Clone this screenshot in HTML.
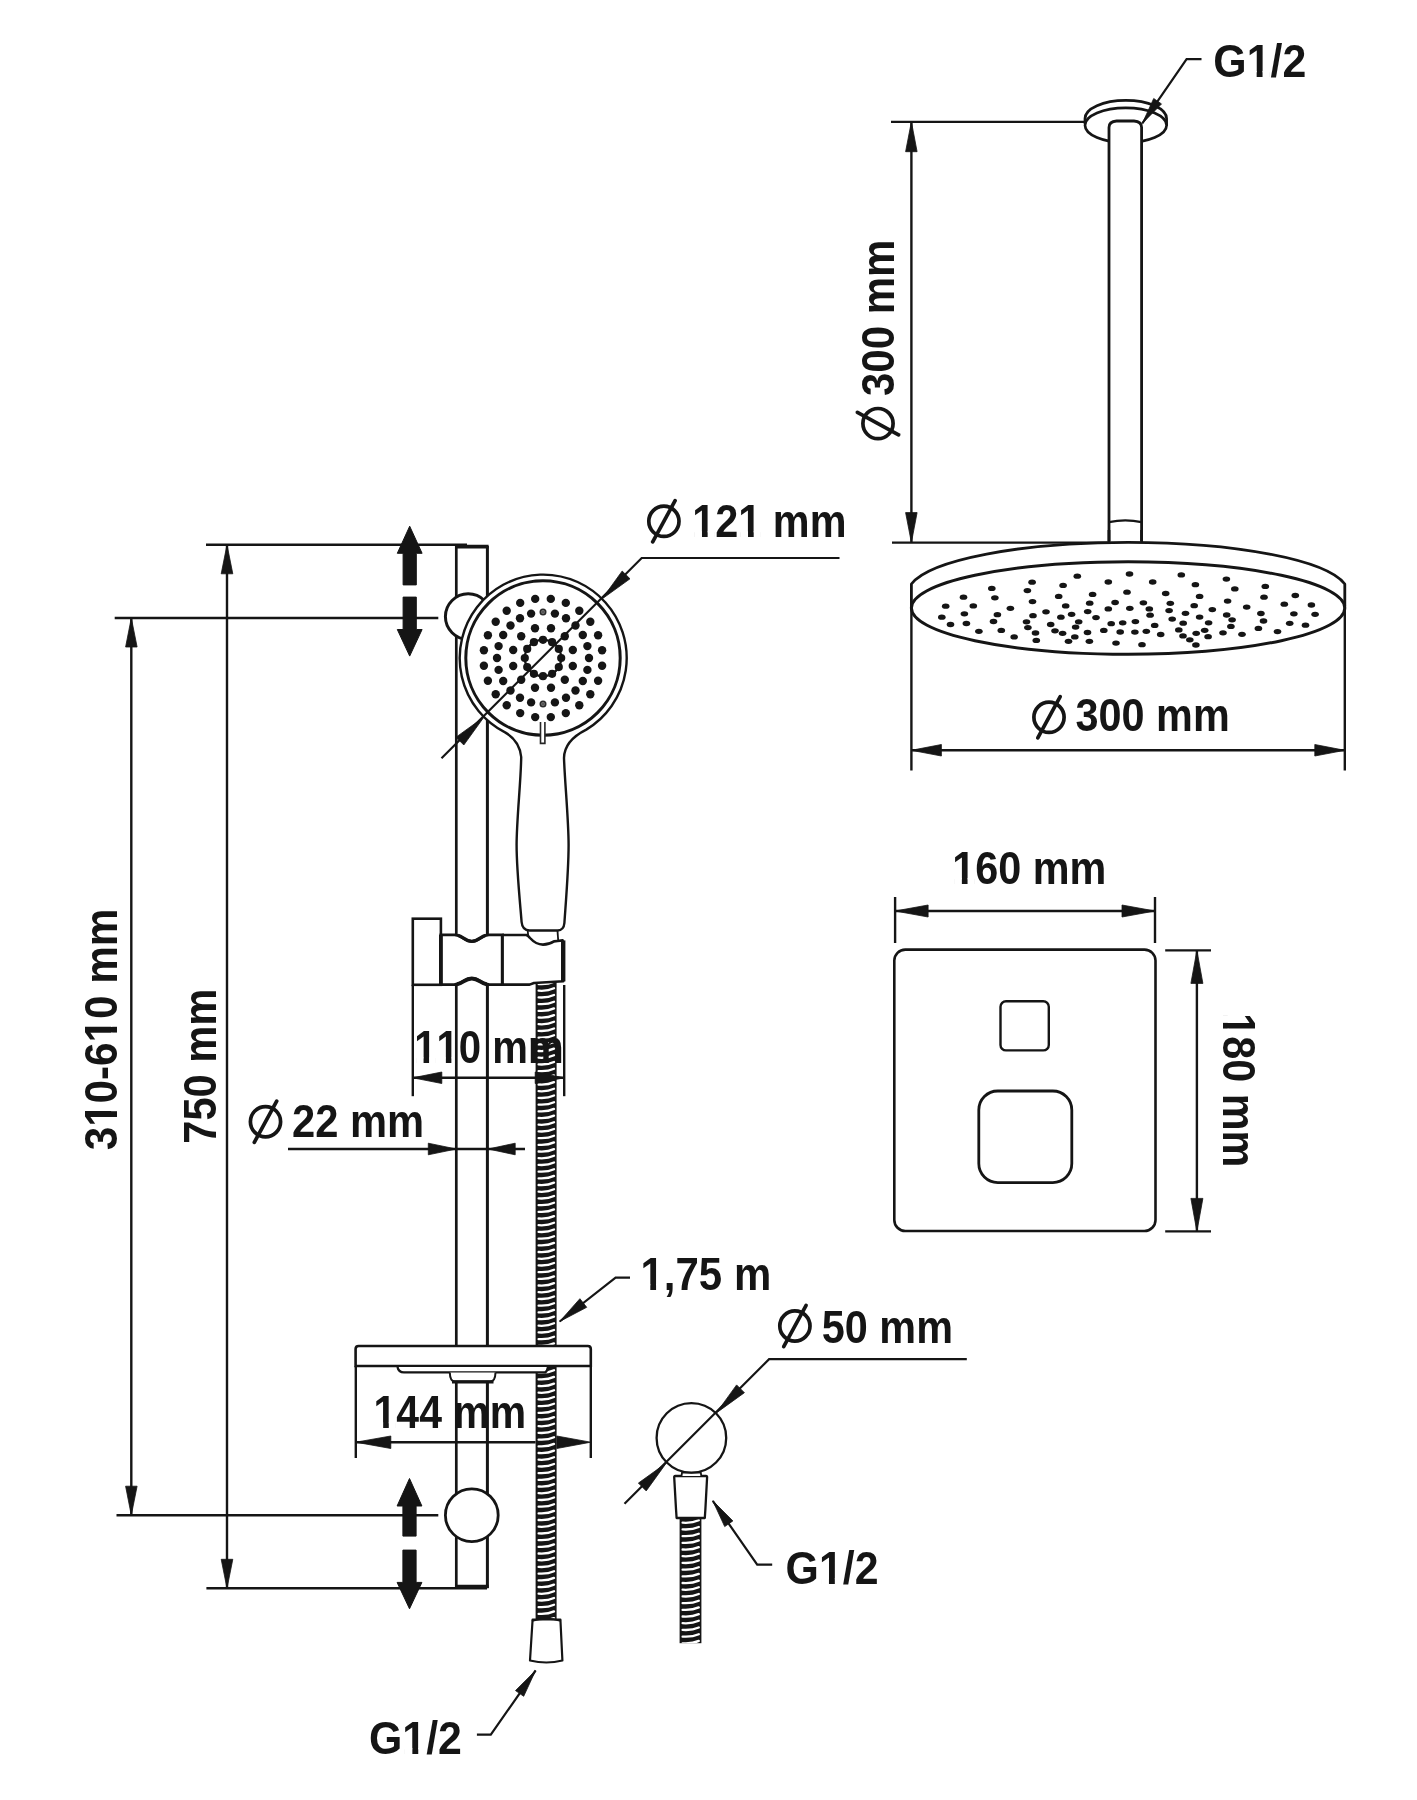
<!DOCTYPE html>
<html><head><meta charset="utf-8"><title>Shower set dimensions</title>
<style>
html,body{margin:0;padding:0;background:#fff;}
svg{display:block;}
text{font-family:"Liberation Sans",sans-serif;font-weight:bold;fill:#151515;}
</style></head>
<body>
<svg width="1417" height="1800" viewBox="0 0 1417 1800">
<rect width="1417" height="1800" fill="#fff"/>
<path d="M1085,124 L1085,118.6 A40.8,18.2 0 0 1 1166.6,118.6 L1166.6,125.7" fill="#fff" stroke="#151515" stroke-width="2.7" />
<ellipse cx="1125.8" cy="125.2" rx="40.8" ry="17.4" fill="#fff" stroke="#151515" stroke-width="2.7"/>
<path d="M1109,541 L1109,127.5 Q1109,121.4 1116.6,121 L1134,121 Q1141.6,121.4 1141.6,127.5 L1141.6,541" fill="#fff" stroke="#151515" stroke-width="2.8" />
<path d="M1109,522.2 Q1125.3,518.6 1141.6,522.2" fill="none" stroke="#151515" stroke-width="2.4" />
<polyline points="1201.5,59.2 1186.6,59.2 1142.3,123.4" fill="none" stroke="#151515" stroke-width="2.2" />
<polygon points="1142.3,123.4 1153.7,98.5 1161.5,103.9" fill="#151515" stroke="#151515" stroke-width="0.8" stroke-linejoin="round"/>
<mask id="m1" maskUnits="userSpaceOnUse" x="-10" y="-50.6" width="119.7" height="69.0"><rect x="-10" y="-50.6" width="119.7" height="69.0" fill="#fff"/><rect x="38.03" y="-5.88" width="8.49" height="6.51" fill="#000"/><rect x="52.83" y="-5.88" width="7.88" height="6.51" fill="#000"/></mask>
<text transform="translate(1213.3 76.8) scale(0.932 1)" font-size="46.0" x="0.00 35.78 61.36 74.14" y="0" mask="url(#m1)" >G1/2</text>
<line x1="891.0" y1="121.9" x2="1085.0" y2="121.9" stroke="#151515" stroke-width="2.4" />
<line x1="892.0" y1="542.6" x2="1109.0" y2="542.6" stroke="#151515" stroke-width="2.4" />
<line x1="911.4" y1="121.9" x2="911.4" y2="542.6" stroke="#151515" stroke-width="2.4" />
<polygon points="911.4,121.7 917.1,151.7 905.6,151.7" fill="#151515" stroke="#151515" stroke-width="0.8" stroke-linejoin="round"/>
<polygon points="911.4,542.6 905.6,512.6 917.1,512.6" fill="#151515" stroke="#151515" stroke-width="0.8" stroke-linejoin="round"/>
<mask id="m2" maskUnits="userSpaceOnUse" x="-10" y="-50.6" width="191.3" height="69.0"><rect x="-10" y="-50.6" width="191.3" height="69.0" fill="#fff"/></mask>
<text transform="translate(894.3 396.0) rotate(-90) scale(0.913 1)" font-size="46.0" x="0.00 25.58 51.17 76.75 89.53 130.43" y="0" mask="url(#m2)" >300 mm</text>
<g transform="translate(878.0 423.6) rotate(-90)" fill="none" stroke="#151515" stroke-width="3.7" stroke-linecap="round"><circle r="15.1"/><line x1="-11.2" y1="20.6" x2="11.2" y2="-20.6"/></g>
<path d="M911.4,606 L911.4,584 A220,50.4 0 0 1 1344.8,584 L1344.8,606" fill="#fff" stroke="#151515" stroke-width="2.8" stroke-linejoin="round"/>
<ellipse cx="1128.1" cy="608" rx="216.7" ry="46.2" fill="#fff" stroke="#151515" stroke-width="3.0"/>
<line x1="1109.0" y1="530.0" x2="1109.0" y2="542.0" stroke="#151515" stroke-width="2.8" />
<line x1="1141.6" y1="530.0" x2="1141.6" y2="542.0" stroke="#151515" stroke-width="2.8" />
<g fill="#151515">
<ellipse cx="945.7" cy="606.2" rx="3.8" ry="2.65"/>
<ellipse cx="941.8" cy="617.2" rx="3.8" ry="2.65"/>
<ellipse cx="950.5" cy="624.5" rx="3.8" ry="2.65"/>
<ellipse cx="963.5" cy="597.2" rx="3.8" ry="2.65"/>
<ellipse cx="964.4" cy="613.8" rx="3.8" ry="2.65"/>
<ellipse cx="966.4" cy="623.5" rx="3.8" ry="2.65"/>
<ellipse cx="973.3" cy="605.9" rx="3.8" ry="2.65"/>
<ellipse cx="978.9" cy="631.3" rx="3.8" ry="2.65"/>
<ellipse cx="991.8" cy="588.4" rx="3.8" ry="2.65"/>
<ellipse cx="994.9" cy="597.8" rx="3.8" ry="2.65"/>
<ellipse cx="997.4" cy="614.7" rx="3.8" ry="2.65"/>
<ellipse cx="993.5" cy="621.5" rx="3.8" ry="2.65"/>
<ellipse cx="1001.3" cy="630.4" rx="3.8" ry="2.65"/>
<ellipse cx="1010.4" cy="608.3" rx="3.8" ry="2.65"/>
<ellipse cx="1014.2" cy="636.9" rx="3.8" ry="2.65"/>
<ellipse cx="1032.1" cy="582.2" rx="3.8" ry="2.65"/>
<ellipse cx="1027.4" cy="590.6" rx="3.8" ry="2.65"/>
<ellipse cx="1032.5" cy="601.6" rx="3.8" ry="2.65"/>
<ellipse cx="1033.0" cy="615.7" rx="3.8" ry="2.65"/>
<ellipse cx="1026.5" cy="621.8" rx="3.8" ry="2.65"/>
<ellipse cx="1027.9" cy="627.6" rx="3.8" ry="2.65"/>
<ellipse cx="1035.5" cy="633.0" rx="3.8" ry="2.65"/>
<ellipse cx="1036.3" cy="640.4" rx="3.8" ry="2.65"/>
<ellipse cx="1046.0" cy="611.8" rx="3.8" ry="2.65"/>
<ellipse cx="1050.7" cy="624.5" rx="3.8" ry="2.65"/>
<ellipse cx="1055.0" cy="630.8" rx="3.8" ry="2.65"/>
<ellipse cx="1062.6" cy="633.3" rx="3.8" ry="2.65"/>
<ellipse cx="1068.5" cy="641.3" rx="3.8" ry="2.65"/>
<ellipse cx="1063.1" cy="585.4" rx="3.8" ry="2.65"/>
<ellipse cx="1058.7" cy="596.4" rx="3.8" ry="2.65"/>
<ellipse cx="1065.7" cy="605.9" rx="3.8" ry="2.65"/>
<ellipse cx="1060.9" cy="617.2" rx="3.8" ry="2.65"/>
<ellipse cx="1071.6" cy="614.3" rx="3.8" ry="2.65"/>
<ellipse cx="1078.7" cy="621.8" rx="3.8" ry="2.65"/>
<ellipse cx="1075.6" cy="627.1" rx="3.8" ry="2.65"/>
<ellipse cx="1074.8" cy="636.9" rx="3.8" ry="2.65"/>
<ellipse cx="1077.3" cy="576.2" rx="3.8" ry="2.65"/>
<ellipse cx="1092.6" cy="594.4" rx="3.8" ry="2.65"/>
<ellipse cx="1089.7" cy="603.2" rx="3.8" ry="2.65"/>
<ellipse cx="1087.7" cy="611.6" rx="3.8" ry="2.65"/>
<ellipse cx="1096.0" cy="617.6" rx="3.8" ry="2.65"/>
<ellipse cx="1087.5" cy="632.5" rx="3.8" ry="2.65"/>
<ellipse cx="1089.4" cy="641.3" rx="3.8" ry="2.65"/>
<ellipse cx="1108.3" cy="582.0" rx="3.8" ry="2.65"/>
<ellipse cx="1115.1" cy="602.5" rx="3.8" ry="2.65"/>
<ellipse cx="1108.3" cy="608.9" rx="3.8" ry="2.65"/>
<ellipse cx="1111.2" cy="623.7" rx="3.8" ry="2.65"/>
<ellipse cx="1103.8" cy="630.4" rx="3.8" ry="2.65"/>
<ellipse cx="1116.0" cy="643.1" rx="3.8" ry="2.65"/>
<ellipse cx="1129.5" cy="574.0" rx="3.8" ry="2.65"/>
<ellipse cx="1127.0" cy="592.2" rx="3.8" ry="2.65"/>
<ellipse cx="1129.8" cy="608.3" rx="3.8" ry="2.65"/>
<ellipse cx="1122.7" cy="622.8" rx="3.8" ry="2.65"/>
<ellipse cx="1120.2" cy="632.0" rx="3.8" ry="2.65"/>
<ellipse cx="1135.4" cy="621.6" rx="3.8" ry="2.65"/>
<ellipse cx="1134.9" cy="632.1" rx="3.8" ry="2.65"/>
<ellipse cx="1142.0" cy="644.7" rx="3.8" ry="2.65"/>
<ellipse cx="1152.7" cy="582.0" rx="3.8" ry="2.65"/>
<ellipse cx="1143.4" cy="602.8" rx="3.8" ry="2.65"/>
<ellipse cx="1149.3" cy="608.9" rx="3.8" ry="2.65"/>
<ellipse cx="1150.1" cy="615.2" rx="3.8" ry="2.65"/>
<ellipse cx="1154.7" cy="625.4" rx="3.8" ry="2.65"/>
<ellipse cx="1146.3" cy="631.3" rx="3.8" ry="2.65"/>
<ellipse cx="1160.7" cy="634.5" rx="3.8" ry="2.65"/>
<ellipse cx="1165.7" cy="593.5" rx="3.8" ry="2.65"/>
<ellipse cx="1170.3" cy="603.3" rx="3.8" ry="2.65"/>
<ellipse cx="1169.1" cy="610.6" rx="3.8" ry="2.65"/>
<ellipse cx="1172.2" cy="619.1" rx="3.8" ry="2.65"/>
<ellipse cx="1181.3" cy="574.9" rx="3.8" ry="2.65"/>
<ellipse cx="1185.5" cy="613.3" rx="3.8" ry="2.65"/>
<ellipse cx="1183.2" cy="623.2" rx="3.8" ry="2.65"/>
<ellipse cx="1178.8" cy="629.9" rx="3.8" ry="2.65"/>
<ellipse cx="1183.0" cy="635.9" rx="3.8" ry="2.65"/>
<ellipse cx="1189.8" cy="639.8" rx="3.8" ry="2.65"/>
<ellipse cx="1195.9" cy="645.0" rx="3.8" ry="2.65"/>
<ellipse cx="1195.4" cy="584.7" rx="3.8" ry="2.65"/>
<ellipse cx="1199.6" cy="596.4" rx="3.8" ry="2.65"/>
<ellipse cx="1194.2" cy="605.7" rx="3.8" ry="2.65"/>
<ellipse cx="1199.6" cy="617.1" rx="3.8" ry="2.65"/>
<ellipse cx="1196.2" cy="633.3" rx="3.8" ry="2.65"/>
<ellipse cx="1204.7" cy="630.3" rx="3.8" ry="2.65"/>
<ellipse cx="1208.1" cy="636.7" rx="3.8" ry="2.65"/>
<ellipse cx="1208.6" cy="622.8" rx="3.8" ry="2.65"/>
<ellipse cx="1212.3" cy="609.6" rx="3.8" ry="2.65"/>
<ellipse cx="1226.4" cy="579.1" rx="3.8" ry="2.65"/>
<ellipse cx="1234.8" cy="588.9" rx="3.8" ry="2.65"/>
<ellipse cx="1227.6" cy="601.1" rx="3.8" ry="2.65"/>
<ellipse cx="1226.7" cy="615.0" rx="3.8" ry="2.65"/>
<ellipse cx="1232.1" cy="619.8" rx="3.8" ry="2.65"/>
<ellipse cx="1230.9" cy="626.4" rx="3.8" ry="2.65"/>
<ellipse cx="1223.0" cy="632.8" rx="3.8" ry="2.65"/>
<ellipse cx="1242.0" cy="634.3" rx="3.8" ry="2.65"/>
<ellipse cx="1246.7" cy="607.1" rx="3.8" ry="2.65"/>
<ellipse cx="1265.3" cy="586.4" rx="3.8" ry="2.65"/>
<ellipse cx="1264.0" cy="597.2" rx="3.8" ry="2.65"/>
<ellipse cx="1260.9" cy="613.5" rx="3.8" ry="2.65"/>
<ellipse cx="1263.5" cy="621.0" rx="3.8" ry="2.65"/>
<ellipse cx="1258.4" cy="628.4" rx="3.8" ry="2.65"/>
<ellipse cx="1277.5" cy="631.6" rx="3.8" ry="2.65"/>
<ellipse cx="1284.3" cy="604.2" rx="3.8" ry="2.65"/>
<ellipse cx="1295.3" cy="595.5" rx="3.8" ry="2.65"/>
<ellipse cx="1293.9" cy="613.8" rx="3.8" ry="2.65"/>
<ellipse cx="1289.7" cy="623.3" rx="3.8" ry="2.65"/>
<ellipse cx="1305.5" cy="625.2" rx="3.8" ry="2.65"/>
<ellipse cx="1311.4" cy="605.0" rx="3.8" ry="2.65"/>
<ellipse cx="1315.1" cy="614.3" rx="3.8" ry="2.65"/>
</g>
<line x1="911.4" y1="606.0" x2="911.4" y2="770.5" stroke="#151515" stroke-width="2.4" />
<line x1="1344.8" y1="606.0" x2="1344.8" y2="770.5" stroke="#151515" stroke-width="2.4" />
<line x1="911.4" y1="750.3" x2="1344.8" y2="750.3" stroke="#151515" stroke-width="2.4" />
<polygon points="911.4,750.3 941.4,744.5 941.4,756.0" fill="#151515" stroke="#151515" stroke-width="0.8" stroke-linejoin="round"/>
<polygon points="1344.8,750.3 1314.8,756.0 1314.8,744.5" fill="#151515" stroke="#151515" stroke-width="0.8" stroke-linejoin="round"/>
<g transform="translate(1049.0 717.3) rotate(0)" fill="none" stroke="#151515" stroke-width="3.7" stroke-linecap="round"><circle r="15.1"/><line x1="-11.2" y1="20.6" x2="11.2" y2="-20.6"/></g>
<mask id="m3" maskUnits="userSpaceOnUse" x="-10" y="-50.6" width="191.3" height="69.0"><rect x="-10" y="-50.6" width="191.3" height="69.0" fill="#fff"/></mask>
<text transform="translate(1075.5 731.3) scale(0.9 1)" font-size="46.0" x="0.00 25.58 51.17 76.75 89.53 130.43" y="0" mask="url(#m3)" >300 mm</text>
<rect x="894.3" y="949.6" width="261.2" height="281.4" rx="11" fill="#fff" stroke="#151515" stroke-width="2.6"/>
<rect x="1000.5" y="1001.2" width="48.3" height="49.2" rx="5.5" fill="#fff" stroke="#151515" stroke-width="2.4"/>
<rect x="978.8" y="1091" width="93" height="91.6" rx="19" fill="#fff" stroke="#151515" stroke-width="2.8"/>
<line x1="895.1" y1="897.0" x2="895.1" y2="943.0" stroke="#151515" stroke-width="2.4" />
<line x1="1155.0" y1="897.0" x2="1155.0" y2="943.0" stroke="#151515" stroke-width="2.4" />
<line x1="895.1" y1="911.0" x2="1155.0" y2="911.0" stroke="#151515" stroke-width="2.4" />
<polygon points="895.1,911.0 928.1,905.0 928.1,917.0" fill="#151515" stroke="#151515" stroke-width="0.8" stroke-linejoin="round"/>
<polygon points="1155.0,911.0 1122.0,917.0 1122.0,905.0" fill="#151515" stroke="#151515" stroke-width="0.8" stroke-linejoin="round"/>
<mask id="m4" maskUnits="userSpaceOnUse" x="-10" y="-50.6" width="191.3" height="69.0"><rect x="-10" y="-50.6" width="191.3" height="69.0" fill="#fff"/><rect x="2.25" y="-5.88" width="8.49" height="6.51" fill="#000"/><rect x="17.05" y="-5.88" width="7.88" height="6.51" fill="#000"/></mask>
<text transform="translate(952.2 884.0) scale(0.9 1)" font-size="46.0" x="0.00 25.58 51.17 76.75 89.53 130.43" y="0" mask="url(#m4)" >160 mm</text>
<line x1="1165.2" y1="950.4" x2="1211.0" y2="950.4" stroke="#151515" stroke-width="2.4" />
<line x1="1165.2" y1="1231.4" x2="1211.0" y2="1231.4" stroke="#151515" stroke-width="2.4" />
<line x1="1196.9" y1="950.4" x2="1196.9" y2="1231.4" stroke="#151515" stroke-width="2.4" />
<polygon points="1196.9,950.4 1202.9,983.4 1190.9,983.4" fill="#151515" stroke="#151515" stroke-width="0.8" stroke-linejoin="round"/>
<polygon points="1196.9,1231.4 1190.9,1198.4 1202.9,1198.4" fill="#151515" stroke="#151515" stroke-width="0.8" stroke-linejoin="round"/>
<mask id="m5" maskUnits="userSpaceOnUse" x="-10" y="-50.6" width="191.3" height="69.0"><rect x="-10" y="-50.6" width="191.3" height="69.0" fill="#fff"/><rect x="2.25" y="-5.88" width="8.49" height="6.51" fill="#000"/><rect x="17.05" y="-5.88" width="7.88" height="6.51" fill="#000"/></mask>
<text transform="translate(1222.5 1013.2) rotate(90) scale(0.9 1)" font-size="46.0" x="0.00 25.58 51.17 76.75 89.53 130.43" y="0" mask="url(#m5)" >180 mm</text>
<clipPath id="h2"><rect x="679.6" y="1512" width="21.799999999999955" height="131.20000000000005"/></clipPath>
<rect x="679.6" y="1512" width="21.799999999999955" height="131.20000000000005" fill="#151515"/>
<g clip-path="url(#h2)" fill="none" stroke="#fff" stroke-width="2.3" stroke-linecap="round">
<path d="M682.6,1516.0 C688.3,1516.4 693.9,1515.8 698.8,1513.6"/>
<path d="M682.6,1522.7 C688.3,1523.1 693.9,1522.5 698.8,1520.3"/>
<path d="M682.6,1529.4 C688.3,1529.8 693.9,1529.2 698.8,1527.0"/>
<path d="M682.6,1536.1 C688.3,1536.5 693.9,1535.9 698.8,1533.7"/>
<path d="M682.6,1542.8 C688.3,1543.2 693.9,1542.6 698.8,1540.4"/>
<path d="M682.6,1549.5 C688.3,1549.9 693.9,1549.3 698.8,1547.1"/>
<path d="M682.6,1556.2 C688.3,1556.6 693.9,1556.0 698.8,1553.8"/>
<path d="M682.6,1562.9 C688.3,1563.3 693.9,1562.7 698.8,1560.5"/>
<path d="M682.6,1569.6 C688.3,1570.0 693.9,1569.4 698.8,1567.2"/>
<path d="M682.6,1576.3 C688.3,1576.7 693.9,1576.1 698.8,1573.9"/>
<path d="M682.6,1583.0 C688.3,1583.4 693.9,1582.8 698.8,1580.6"/>
<path d="M682.6,1589.7 C688.3,1590.1 693.9,1589.5 698.8,1587.3"/>
<path d="M682.6,1596.4 C688.3,1596.8 693.9,1596.2 698.8,1594.0"/>
<path d="M682.6,1603.1 C688.3,1603.5 693.9,1602.9 698.8,1600.7"/>
<path d="M682.6,1609.8 C688.3,1610.2 693.9,1609.6 698.8,1607.4"/>
<path d="M682.6,1616.5 C688.3,1616.9 693.9,1616.3 698.8,1614.1"/>
<path d="M682.6,1623.2 C688.3,1623.6 693.9,1623.0 698.8,1620.8"/>
<path d="M682.6,1629.9 C688.3,1630.3 693.9,1629.7 698.8,1627.5"/>
<path d="M682.6,1636.6 C688.3,1637.0 693.9,1636.4 698.8,1634.2"/>
<path d="M682.6,1643.3 C688.3,1643.7 693.9,1643.1 698.8,1640.9"/>
</g>
<path d="M675.3,1476 L706,1476 Q707.2,1476 707.1,1477.2 L705.4,1509 L704.8,1518 L676.6,1518 L676,1509 L674.2,1477.2 Q674.1,1476 675.3,1476 Z" fill="#fff" stroke="#151515" stroke-width="2.3" stroke-linejoin="round"/>
<path d="M681.5,1476 L682,1472.6 L700.8,1472.6 L701.3,1476" fill="#fff" stroke="#151515" stroke-width="1.8" />
<circle cx="691.4" cy="1437.9" r="34.8" fill="#fff" stroke="#151515" stroke-width="2.3"/>
<polyline points="966.8,1359.2 769.1,1359.2 624.5,1503.8" fill="none" stroke="#151515" stroke-width="2.2" />
<polygon points="716.4,1412.9 736.6,1384.9 744.4,1392.7" fill="#151515" stroke="#151515" stroke-width="0.8" stroke-linejoin="round"/>
<polygon points="666.4,1462.9 646.2,1490.9 638.4,1483.1" fill="#151515" stroke="#151515" stroke-width="0.8" stroke-linejoin="round"/>
<g transform="translate(794.9 1326.0) rotate(0)" fill="none" stroke="#151515" stroke-width="3.7" stroke-linecap="round"><circle r="15.1"/><line x1="-11.2" y1="20.6" x2="11.2" y2="-20.6"/></g>
<mask id="m6" maskUnits="userSpaceOnUse" x="-10" y="-50.6" width="165.7" height="69.0"><rect x="-10" y="-50.6" width="165.7" height="69.0" fill="#fff"/></mask>
<text transform="translate(821.8 1342.6) scale(0.9 1)" font-size="46.0" x="0.00 25.58 51.17 63.95 104.85" y="0" mask="url(#m6)" >50 mm</text>
<polyline points="772.2,1564.6 757.2,1564.6 712.8,1500.8" fill="none" stroke="#151515" stroke-width="2.2" />
<polygon points="712.8,1500.8 732.9,1520.9 724.7,1526.6" fill="#151515" stroke="#151515" stroke-width="0.8" stroke-linejoin="round"/>
<mask id="m7" maskUnits="userSpaceOnUse" x="-10" y="-50.6" width="119.7" height="69.0"><rect x="-10" y="-50.6" width="119.7" height="69.0" fill="#fff"/><rect x="38.03" y="-5.88" width="8.49" height="6.51" fill="#000"/><rect x="52.83" y="-5.88" width="7.88" height="6.51" fill="#000"/></mask>
<text transform="translate(785.6 1584.0) scale(0.932 1)" font-size="46.0" x="0.00 35.78 61.36 74.14" y="0" mask="url(#m7)" >G1/2</text>
<line x1="206.0" y1="544.8" x2="467.0" y2="544.8" stroke="#151515" stroke-width="2.4" />
<line x1="206.4" y1="1588.3" x2="487.0" y2="1588.3" stroke="#151515" stroke-width="2.4" />
<line x1="227.0" y1="544.8" x2="227.0" y2="1588.3" stroke="#151515" stroke-width="2.4" />
<polygon points="227.0,544.8 232.8,573.8 221.2,573.8" fill="#151515" stroke="#151515" stroke-width="0.8" stroke-linejoin="round"/>
<polygon points="227.0,1588.3 221.2,1559.3 232.8,1559.3" fill="#151515" stroke="#151515" stroke-width="0.8" stroke-linejoin="round"/>
<line x1="114.7" y1="618.0" x2="438.3" y2="618.0" stroke="#151515" stroke-width="2.4" />
<line x1="116.5" y1="1515.2" x2="438.3" y2="1515.2" stroke="#151515" stroke-width="2.4" />
<line x1="131.3" y1="618.0" x2="131.3" y2="1515.2" stroke="#151515" stroke-width="2.4" />
<polygon points="131.3,618.0 137.1,647.0 125.6,647.0" fill="#151515" stroke="#151515" stroke-width="0.8" stroke-linejoin="round"/>
<polygon points="131.3,1515.2 125.6,1486.2 137.1,1486.2" fill="#151515" stroke="#151515" stroke-width="0.8" stroke-linejoin="round"/>
<mask id="m8" maskUnits="userSpaceOnUse" x="-10" y="-50.6" width="283.4" height="69.0"><rect x="-10" y="-50.6" width="283.4" height="69.0" fill="#fff"/><rect x="27.83" y="-5.88" width="8.49" height="6.51" fill="#000"/><rect x="42.63" y="-5.88" width="7.88" height="6.51" fill="#000"/><rect x="119.90" y="-5.88" width="8.49" height="6.51" fill="#000"/><rect x="134.70" y="-5.88" width="7.88" height="6.51" fill="#000"/></mask>
<text transform="translate(117.0 1150.3) rotate(-90) scale(0.917 1)" font-size="46.0" x="0.00 25.58 51.17 76.75 92.07 117.65 143.23 168.82 181.60 222.50" y="0" mask="url(#m8)" >310-610 mm</text>
<mask id="m9" maskUnits="userSpaceOnUse" x="-10" y="-50.6" width="191.3" height="69.0"><rect x="-10" y="-50.6" width="191.3" height="69.0" fill="#fff"/></mask>
<text transform="translate(216.0 1143.7) rotate(-90) scale(0.905 1)" font-size="46.0" x="0.00 25.58 51.17 76.75 89.53 130.43" y="0" mask="url(#m9)" >750 mm</text>
<path d="M409.7,526.2 L422.1,553.3 L416.3,553.3 L416.3,584.9 L403.1,584.9 L403.1,553.3 L397.3,553.3 Z" fill="#151515" stroke="#151515" stroke-width="1" stroke-linejoin="round"/>
<path d="M409.7,656.1 L422.1,629.5 L416.3,629.5 L416.3,597.1 L403.1,597.1 L403.1,629.5 L397.3,629.5 Z" fill="#151515" stroke="#151515" stroke-width="1" stroke-linejoin="round"/>
<path d="M409.5,1478.5 L421.9,1506.0 L416.1,1506.0 L416.1,1536.1 L402.9,1536.1 L402.9,1506.0 L397.1,1506.0 Z" fill="#151515" stroke="#151515" stroke-width="1" stroke-linejoin="round"/>
<path d="M409.5,1608.8 L421.9,1582.4 L416.1,1582.4 L416.1,1550.1 L402.9,1550.1 L402.9,1582.4 L397.1,1582.4 Z" fill="#151515" stroke="#151515" stroke-width="1" stroke-linejoin="round"/>
<line x1="456.3" y1="546.0" x2="456.3" y2="1588.0" stroke="#151515" stroke-width="2.7" />
<line x1="487.4" y1="546.0" x2="487.4" y2="1588.0" stroke="#151515" stroke-width="3.0" />
<line x1="455.3" y1="546.6" x2="488.6" y2="546.6" stroke="#151515" stroke-width="3.6" />
<line x1="455.3" y1="1586.5" x2="488.6" y2="1586.5" stroke="#151515" stroke-width="3.4" />
<clipPath id="h1"><rect x="535.6" y="982" width="21.0" height="638"/></clipPath>
<rect x="535.6" y="982" width="21.0" height="638" fill="#151515"/>
<g clip-path="url(#h1)" fill="none" stroke="#fff" stroke-width="2.3" stroke-linecap="round">
<path d="M538.6,984.0 C544.0,984.4 549.4,983.8 554.0,981.6"/>
<path d="M538.6,990.7 C544.0,991.1 549.4,990.5 554.0,988.3"/>
<path d="M538.6,997.4 C544.0,997.8 549.4,997.2 554.0,995.0"/>
<path d="M538.6,1004.1 C544.0,1004.5 549.4,1003.9 554.0,1001.7"/>
<path d="M538.6,1010.8 C544.0,1011.2 549.4,1010.6 554.0,1008.4"/>
<path d="M538.6,1017.5 C544.0,1017.9 549.4,1017.3 554.0,1015.1"/>
<path d="M538.6,1024.2 C544.0,1024.6 549.4,1024.0 554.0,1021.8"/>
<path d="M538.6,1030.9 C544.0,1031.3 549.4,1030.7 554.0,1028.5"/>
<path d="M538.6,1037.6 C544.0,1038.0 549.4,1037.4 554.0,1035.2"/>
<path d="M538.6,1044.3 C544.0,1044.7 549.4,1044.1 554.0,1041.9"/>
<path d="M538.6,1051.0 C544.0,1051.4 549.4,1050.8 554.0,1048.6"/>
<path d="M538.6,1057.7 C544.0,1058.1 549.4,1057.5 554.0,1055.3"/>
<path d="M538.6,1064.4 C544.0,1064.8 549.4,1064.2 554.0,1062.0"/>
<path d="M538.6,1071.1 C544.0,1071.5 549.4,1070.9 554.0,1068.7"/>
<path d="M538.6,1077.8 C544.0,1078.2 549.4,1077.6 554.0,1075.4"/>
<path d="M538.6,1084.5 C544.0,1084.9 549.4,1084.3 554.0,1082.1"/>
<path d="M538.6,1091.2 C544.0,1091.6 549.4,1091.0 554.0,1088.8"/>
<path d="M538.6,1097.9 C544.0,1098.3 549.4,1097.7 554.0,1095.5"/>
<path d="M538.6,1104.6 C544.0,1105.0 549.4,1104.4 554.0,1102.2"/>
<path d="M538.6,1111.3 C544.0,1111.7 549.4,1111.1 554.0,1108.9"/>
<path d="M538.6,1118.0 C544.0,1118.4 549.4,1117.8 554.0,1115.6"/>
<path d="M538.6,1124.7 C544.0,1125.1 549.4,1124.5 554.0,1122.3"/>
<path d="M538.6,1131.4 C544.0,1131.8 549.4,1131.2 554.0,1129.0"/>
<path d="M538.6,1138.1 C544.0,1138.5 549.4,1137.9 554.0,1135.7"/>
<path d="M538.6,1144.8 C544.0,1145.2 549.4,1144.6 554.0,1142.4"/>
<path d="M538.6,1151.5 C544.0,1151.9 549.4,1151.3 554.0,1149.1"/>
<path d="M538.6,1158.2 C544.0,1158.6 549.4,1158.0 554.0,1155.8"/>
<path d="M538.6,1164.9 C544.0,1165.3 549.4,1164.7 554.0,1162.5"/>
<path d="M538.6,1171.6 C544.0,1172.0 549.4,1171.4 554.0,1169.2"/>
<path d="M538.6,1178.3 C544.0,1178.7 549.4,1178.1 554.0,1175.9"/>
<path d="M538.6,1185.0 C544.0,1185.4 549.4,1184.8 554.0,1182.6"/>
<path d="M538.6,1191.7 C544.0,1192.1 549.4,1191.5 554.0,1189.3"/>
<path d="M538.6,1198.4 C544.0,1198.8 549.4,1198.2 554.0,1196.0"/>
<path d="M538.6,1205.1 C544.0,1205.5 549.4,1204.9 554.0,1202.7"/>
<path d="M538.6,1211.8 C544.0,1212.2 549.4,1211.6 554.0,1209.4"/>
<path d="M538.6,1218.5 C544.0,1218.9 549.4,1218.3 554.0,1216.1"/>
<path d="M538.6,1225.2 C544.0,1225.6 549.4,1225.0 554.0,1222.8"/>
<path d="M538.6,1231.9 C544.0,1232.3 549.4,1231.7 554.0,1229.5"/>
<path d="M538.6,1238.6 C544.0,1239.0 549.4,1238.4 554.0,1236.2"/>
<path d="M538.6,1245.3 C544.0,1245.7 549.4,1245.1 554.0,1242.9"/>
<path d="M538.6,1252.0 C544.0,1252.4 549.4,1251.8 554.0,1249.6"/>
<path d="M538.6,1258.7 C544.0,1259.1 549.4,1258.5 554.0,1256.3"/>
<path d="M538.6,1265.4 C544.0,1265.8 549.4,1265.2 554.0,1263.0"/>
<path d="M538.6,1272.1 C544.0,1272.5 549.4,1271.9 554.0,1269.7"/>
<path d="M538.6,1278.8 C544.0,1279.2 549.4,1278.6 554.0,1276.4"/>
<path d="M538.6,1285.5 C544.0,1285.9 549.4,1285.3 554.0,1283.1"/>
<path d="M538.6,1292.2 C544.0,1292.6 549.4,1292.0 554.0,1289.8"/>
<path d="M538.6,1298.9 C544.0,1299.3 549.4,1298.7 554.0,1296.5"/>
<path d="M538.6,1305.6 C544.0,1306.0 549.4,1305.4 554.0,1303.2"/>
<path d="M538.6,1312.3 C544.0,1312.7 549.4,1312.1 554.0,1309.9"/>
<path d="M538.6,1319.0 C544.0,1319.4 549.4,1318.8 554.0,1316.6"/>
<path d="M538.6,1325.7 C544.0,1326.1 549.4,1325.5 554.0,1323.3"/>
<path d="M538.6,1332.4 C544.0,1332.8 549.4,1332.2 554.0,1330.0"/>
<path d="M538.6,1339.1 C544.0,1339.5 549.4,1338.9 554.0,1336.7"/>
<path d="M538.6,1345.8 C544.0,1346.2 549.4,1345.6 554.0,1343.4"/>
<path d="M538.6,1352.5 C544.0,1352.9 549.4,1352.3 554.0,1350.1"/>
<path d="M538.6,1359.2 C544.0,1359.6 549.4,1359.0 554.0,1356.8"/>
<path d="M538.6,1365.9 C544.0,1366.3 549.4,1365.7 554.0,1363.5"/>
<path d="M538.6,1372.6 C544.0,1373.0 549.4,1372.4 554.0,1370.2"/>
<path d="M538.6,1379.3 C544.0,1379.7 549.4,1379.1 554.0,1376.9"/>
<path d="M538.6,1386.0 C544.0,1386.4 549.4,1385.8 554.0,1383.6"/>
<path d="M538.6,1392.7 C544.0,1393.1 549.4,1392.5 554.0,1390.3"/>
<path d="M538.6,1399.4 C544.0,1399.8 549.4,1399.2 554.0,1397.0"/>
<path d="M538.6,1406.1 C544.0,1406.5 549.4,1405.9 554.0,1403.7"/>
<path d="M538.6,1412.8 C544.0,1413.2 549.4,1412.6 554.0,1410.4"/>
<path d="M538.6,1419.5 C544.0,1419.9 549.4,1419.3 554.0,1417.1"/>
<path d="M538.6,1426.2 C544.0,1426.6 549.4,1426.0 554.0,1423.8"/>
<path d="M538.6,1432.9 C544.0,1433.3 549.4,1432.7 554.0,1430.5"/>
<path d="M538.6,1439.6 C544.0,1440.0 549.4,1439.4 554.0,1437.2"/>
<path d="M538.6,1446.3 C544.0,1446.7 549.4,1446.1 554.0,1443.9"/>
<path d="M538.6,1453.0 C544.0,1453.4 549.4,1452.8 554.0,1450.6"/>
<path d="M538.6,1459.7 C544.0,1460.1 549.4,1459.5 554.0,1457.3"/>
<path d="M538.6,1466.4 C544.0,1466.8 549.4,1466.2 554.0,1464.0"/>
<path d="M538.6,1473.1 C544.0,1473.5 549.4,1472.9 554.0,1470.7"/>
<path d="M538.6,1479.8 C544.0,1480.2 549.4,1479.6 554.0,1477.4"/>
<path d="M538.6,1486.5 C544.0,1486.9 549.4,1486.3 554.0,1484.1"/>
<path d="M538.6,1493.2 C544.0,1493.6 549.4,1493.0 554.0,1490.8"/>
<path d="M538.6,1499.9 C544.0,1500.3 549.4,1499.7 554.0,1497.5"/>
<path d="M538.6,1506.6 C544.0,1507.0 549.4,1506.4 554.0,1504.2"/>
<path d="M538.6,1513.3 C544.0,1513.7 549.4,1513.1 554.0,1510.9"/>
<path d="M538.6,1520.0 C544.0,1520.4 549.4,1519.8 554.0,1517.6"/>
<path d="M538.6,1526.7 C544.0,1527.1 549.4,1526.5 554.0,1524.3"/>
<path d="M538.6,1533.4 C544.0,1533.8 549.4,1533.2 554.0,1531.0"/>
<path d="M538.6,1540.1 C544.0,1540.5 549.4,1539.9 554.0,1537.7"/>
<path d="M538.6,1546.8 C544.0,1547.2 549.4,1546.6 554.0,1544.4"/>
<path d="M538.6,1553.5 C544.0,1553.9 549.4,1553.3 554.0,1551.1"/>
<path d="M538.6,1560.2 C544.0,1560.6 549.4,1560.0 554.0,1557.8"/>
<path d="M538.6,1566.9 C544.0,1567.3 549.4,1566.7 554.0,1564.5"/>
<path d="M538.6,1573.6 C544.0,1574.0 549.4,1573.4 554.0,1571.2"/>
<path d="M538.6,1580.3 C544.0,1580.7 549.4,1580.1 554.0,1577.9"/>
<path d="M538.6,1587.0 C544.0,1587.4 549.4,1586.8 554.0,1584.6"/>
<path d="M538.6,1593.7 C544.0,1594.1 549.4,1593.5 554.0,1591.3"/>
<path d="M538.6,1600.4 C544.0,1600.8 549.4,1600.2 554.0,1598.0"/>
<path d="M538.6,1607.1 C544.0,1607.5 549.4,1606.9 554.0,1604.7"/>
<path d="M538.6,1613.8 C544.0,1614.2 549.4,1613.6 554.0,1611.4"/>
<path d="M538.6,1620.5 C544.0,1620.9 549.4,1620.3 554.0,1618.1"/>
</g>
<path d="M532.6,1619.5 L560.4,1619.5 L562.4,1660.5 Q546.5,1664.5 530,1660.5 Z" fill="#fff" stroke="#151515" stroke-width="2.2" stroke-linejoin="round"/>
<path d="M531.8,1621 Q546.5,1616.5 561,1621" fill="none" stroke="#151515" stroke-width="1.8" />
<polyline points="476.9,1734.7 490.8,1734.7 535.6,1670.5" fill="none" stroke="#151515" stroke-width="2.2" />
<polygon points="535.6,1670.5 523.7,1696.3 515.5,1690.6" fill="#151515" stroke="#151515" stroke-width="0.8" stroke-linejoin="round"/>
<mask id="m10" maskUnits="userSpaceOnUse" x="-10" y="-50.6" width="119.7" height="69.0"><rect x="-10" y="-50.6" width="119.7" height="69.0" fill="#fff"/><rect x="38.03" y="-5.88" width="8.49" height="6.51" fill="#000"/><rect x="52.83" y="-5.88" width="7.88" height="6.51" fill="#000"/></mask>
<text transform="translate(369.0 1754.0) scale(0.932 1)" font-size="46.0" x="0.00 35.78 61.36 74.14" y="0" mask="url(#m10)" >G1/2</text>
<circle cx="471.8" cy="1515.2" r="26.4" fill="#fff" stroke="#151515" stroke-width="2.8"/>
<path d="M355.6,1366 L355.6,1349 Q355.6,1346 358.6,1346 L587.8,1346 Q590.8,1346 590.8,1349 L590.8,1366 Z" fill="#fff" stroke="#151515" stroke-width="2.6" />
<path d="M397.5,1367 Q398.5,1372.4 404,1372.4 L545,1372.4 Q547.5,1371 548,1367" fill="#fff" stroke="#151515" stroke-width="2.3" />
<path d="M449.8,1372.4 Q450,1381.5 455,1381.5 L490,1381.5 Q495.3,1381.5 495.5,1372.4" fill="#fff" stroke="#151515" stroke-width="2.0" />
<line x1="452.0" y1="1381.8" x2="493.5" y2="1381.8" stroke="#151515" stroke-width="3.2" />
<line x1="355.8" y1="1366.0" x2="355.8" y2="1458.0" stroke="#151515" stroke-width="2.4" />
<line x1="590.8" y1="1366.0" x2="590.8" y2="1458.0" stroke="#151515" stroke-width="2.4" />
<line x1="355.8" y1="1442.2" x2="535.6" y2="1442.2" stroke="#151515" stroke-width="2.4" />
<polygon points="355.8,1442.2 390.8,1436.0 390.8,1448.5" fill="#151515" stroke="#151515" stroke-width="0.8" stroke-linejoin="round"/>
<polygon points="590.8,1442.2 556.8,1448.5 556.8,1436.0" fill="#151515" stroke="#151515" stroke-width="0.8" stroke-linejoin="round"/>
<mask id="m11" maskUnits="userSpaceOnUse" x="-10" y="-50.6" width="191.3" height="69.0"><rect x="-10" y="-50.6" width="191.3" height="69.0" fill="#fff"/><rect x="2.25" y="-5.88" width="8.49" height="6.51" fill="#000"/><rect x="17.05" y="-5.88" width="7.88" height="6.51" fill="#000"/></mask>
<text transform="translate(373.6 1428.3) scale(0.89 1)" font-size="46.0" x="0.00 25.58 51.17 76.75 89.53 130.43" y="0" mask="url(#m11)" >144 mm</text>
<polyline points="630.0,1277.7 615.6,1277.7 559.7,1321.5" fill="none" stroke="#151515" stroke-width="2.2" />
<polygon points="559.7,1321.5 579.9,1298.7 586.7,1307.3" fill="#151515" stroke="#151515" stroke-width="0.8" stroke-linejoin="round"/>
<mask id="m12" maskUnits="userSpaceOnUse" x="-10" y="-50.6" width="163.2" height="69.0"><rect x="-10" y="-50.6" width="163.2" height="69.0" fill="#fff"/><rect x="2.25" y="-5.88" width="8.49" height="6.51" fill="#000"/><rect x="17.05" y="-5.88" width="7.88" height="6.51" fill="#000"/></mask>
<text transform="translate(640.5 1290.0) scale(0.913 1)" font-size="46.0" x="0.00 25.58 38.36 63.95 89.53 102.31" y="0" mask="url(#m12)" >1,75 m</text>
<rect x="412.8" y="918.7" width="28.1" height="66.1" fill="#fff" stroke="#151515" stroke-width="2.6"/>
<path d="M440.9,934.8 L454.5,934.8 C462,934.8 464,941.4 471.8,941.4 C479.6,941.4 481.6,934.8 489,934.8 L502.6,934.8 L502.6,984.6 L489.6,984.6 C481.6,984.6 479.6,978.4 471.8,978.4 C464,978.4 462,984.6 454,984.6 L440.9,984.6 Z" fill="#fff" stroke="#151515" stroke-width="2.8" />
<line x1="440.9" y1="934.8" x2="440.9" y2="984.6" stroke="#151515" stroke-width="3.8" />
<line x1="502.6" y1="935.0" x2="502.6" y2="984.6" stroke="#151515" stroke-width="3.6" />
<path d="M457,984.2 C463,983.4 465,978.4 471.8,978.4 C478.6,978.4 480.6,983.4 486.6,984.2" fill="none" stroke="#151515" stroke-width="4.0" />
<path d="M458,935.4 C463,936.4 465.5,941.4 471.8,941.4 C478.1,941.4 480.6,936.4 485.6,935.4" fill="none" stroke="#151515" stroke-width="3.4" />
<path d="M502.6,935 L526.5,935 Q528.5,936 530,938 Q536,944.6 543,944.6 Q549,944.6 554,941.4 L557.5,941 L562.6,940.4 L563.2,981.2 L534,983 L529.6,984.6 L502.6,984.6 Z" fill="#fff" stroke="#151515" stroke-width="2.6" stroke-linejoin="round"/>
<line x1="563.2" y1="940.4" x2="563.2" y2="981.4" stroke="#151515" stroke-width="4.4" />
<path d="M527.7,930.5 L528.3,937" fill="none" stroke="#151515" stroke-width="1.8" />
<path d="M557.5,930.5 L558.2,940.8" fill="none" stroke="#151515" stroke-width="1.8" />
<line x1="412.8" y1="984.8" x2="412.8" y2="1096.2" stroke="#151515" stroke-width="2.4" />
<line x1="564.2" y1="985.0" x2="564.2" y2="1096.2" stroke="#151515" stroke-width="2.4" />
<line x1="412.8" y1="1077.8" x2="564.2" y2="1077.8" stroke="#151515" stroke-width="2.4" />
<polygon points="412.8,1077.8 441.8,1072.0 441.8,1083.5" fill="#151515" stroke="#151515" stroke-width="0.8" stroke-linejoin="round"/>
<polygon points="564.2,1077.8 535.2,1083.5 535.2,1072.0" fill="#151515" stroke="#151515" stroke-width="0.8" stroke-linejoin="round"/>
<mask id="m13" maskUnits="userSpaceOnUse" x="-10" y="-50.6" width="191.3" height="69.0"><rect x="-10" y="-50.6" width="191.3" height="69.0" fill="#fff"/><rect x="2.25" y="-5.88" width="8.49" height="6.51" fill="#000"/><rect x="17.05" y="-5.88" width="7.88" height="6.51" fill="#000"/><rect x="27.83" y="-5.88" width="8.49" height="6.51" fill="#000"/><rect x="42.63" y="-5.88" width="7.88" height="6.51" fill="#000"/></mask>
<text transform="translate(414.2 1063.4) scale(0.872 1)" font-size="46.0" x="0.00 25.58 51.17 76.75 89.53 130.43" y="0" mask="url(#m13)" >110 mm</text>
<line x1="288.0" y1="1149.0" x2="525.0" y2="1149.0" stroke="#151515" stroke-width="2.4" />
<polygon points="456.3,1149.0 428.3,1154.8 428.3,1143.2" fill="#151515" stroke="#151515" stroke-width="0.8" stroke-linejoin="round"/>
<polygon points="488.2,1149.0 515.2,1143.2 515.2,1154.8" fill="#151515" stroke="#151515" stroke-width="0.8" stroke-linejoin="round"/>
<g transform="translate(265.5 1121.7) rotate(0)" fill="none" stroke="#151515" stroke-width="3.7" stroke-linecap="round"><circle r="15.1"/><line x1="-11.2" y1="20.6" x2="11.2" y2="-20.6"/></g>
<mask id="m14" maskUnits="userSpaceOnUse" x="-10" y="-50.6" width="165.7" height="69.0"><rect x="-10" y="-50.6" width="165.7" height="69.0" fill="#fff"/></mask>
<text transform="translate(292.0 1136.8) scale(0.907 1)" font-size="46.0" x="0.00 25.58 51.17 63.95 104.85" y="0" mask="url(#m14)" >22 mm</text>
<circle cx="468.2" cy="616.6" r="22.8" fill="#fff" stroke="#151515" stroke-width="3.0"/>
<path d="M586.3,729.6 A83.5,83.5 0 1 0 505.5,732.6 C513,737 520,745 521.2,757 C521,780 516.6,820 516.6,845 C516.6,870 520.3,905 521.6,922 Q522.3,930.3 529.5,930.5 L557.5,930.5 Q563.8,930.3 564.4,923 C565.6,905 568.6,870 568.6,845 C568.6,820 564.8,782 564,758 C564.2,746 572.5,736.5 586.3,729.6 Z" fill="#fff" stroke="#151515" stroke-width="2.4" stroke-linejoin="round"/>
<circle cx="543.0" cy="658.0" r="77.2" fill="none" stroke="#151515" stroke-width="3.0"/>
<path d="M540.5,722 L540.5,743.4 L544.9,743.4 L544.9,722 Z" fill="#fff" stroke="none"/>
<path d="M540.5,722 L540.5,743.4 L544.9,743.4 L544.9,722" fill="none" stroke="#262626" stroke-width="1.6"/>
<g fill="#151515">
<circle cx="561.2" cy="658.0" r="4.1"/>
<circle cx="558.8" cy="648.9" r="4.1"/>
<circle cx="552.1" cy="642.2" r="4.1"/>
<circle cx="543.0" cy="639.8" r="4.1"/>
<circle cx="533.9" cy="642.2" r="4.1"/>
<circle cx="527.2" cy="648.9" r="4.1"/>
<circle cx="524.8" cy="658.0" r="4.1"/>
<circle cx="527.2" cy="667.1" r="4.1"/>
<circle cx="533.9" cy="673.8" r="4.1"/>
<circle cx="543.0" cy="676.2" r="4.1"/>
<circle cx="552.1" cy="673.8" r="4.1"/>
<circle cx="558.8" cy="667.1" r="4.1"/>
<circle cx="572.8" cy="650.0" r="4.2"/>
<circle cx="564.8" cy="636.2" r="4.2"/>
<circle cx="551.0" cy="628.2" r="4.2"/>
<circle cx="535.0" cy="628.2" r="4.2"/>
<circle cx="521.2" cy="636.2" r="4.2"/>
<circle cx="513.2" cy="650.0" r="4.2"/>
<circle cx="513.2" cy="666.0" r="4.2"/>
<circle cx="521.2" cy="679.8" r="4.2"/>
<circle cx="535.0" cy="687.8" r="4.2"/>
<circle cx="551.0" cy="687.8" r="4.2"/>
<circle cx="564.8" cy="679.8" r="4.2"/>
<circle cx="572.8" cy="666.0" r="4.2"/>
<circle cx="589.0" cy="658.0" r="4.2"/>
<circle cx="587.4" cy="646.1" r="4.2"/>
<circle cx="582.8" cy="635.0" r="4.2"/>
<circle cx="575.5" cy="625.5" r="4.2"/>
<circle cx="566.0" cy="618.2" r="4.2"/>
<circle cx="554.9" cy="613.6" r="4.2"/>
<circle cx="531.1" cy="613.6" r="4.2"/>
<circle cx="520.0" cy="618.2" r="4.2"/>
<circle cx="510.5" cy="625.5" r="4.2"/>
<circle cx="503.2" cy="635.0" r="4.2"/>
<circle cx="498.6" cy="646.1" r="4.2"/>
<circle cx="497.0" cy="658.0" r="4.2"/>
<circle cx="498.6" cy="669.9" r="4.2"/>
<circle cx="503.2" cy="681.0" r="4.2"/>
<circle cx="510.5" cy="690.5" r="4.2"/>
<circle cx="520.0" cy="697.8" r="4.2"/>
<circle cx="531.1" cy="702.4" r="4.2"/>
<circle cx="554.9" cy="702.4" r="4.2"/>
<circle cx="566.0" cy="697.8" r="4.2"/>
<circle cx="575.5" cy="690.5" r="4.2"/>
<circle cx="582.8" cy="681.0" r="4.2"/>
<circle cx="587.4" cy="669.9" r="4.2"/>
<circle cx="602.1" cy="650.2" r="4.2"/>
<circle cx="598.1" cy="635.2" r="4.2"/>
<circle cx="590.3" cy="621.7" r="4.2"/>
<circle cx="579.3" cy="610.7" r="4.2"/>
<circle cx="565.8" cy="602.9" r="4.2"/>
<circle cx="550.8" cy="598.9" r="4.2"/>
<circle cx="535.2" cy="598.9" r="4.2"/>
<circle cx="520.2" cy="602.9" r="4.2"/>
<circle cx="506.7" cy="610.7" r="4.2"/>
<circle cx="495.7" cy="621.7" r="4.2"/>
<circle cx="487.9" cy="635.2" r="4.2"/>
<circle cx="483.9" cy="650.2" r="4.2"/>
<circle cx="483.9" cy="665.8" r="4.2"/>
<circle cx="487.9" cy="680.8" r="4.2"/>
<circle cx="495.7" cy="694.3" r="4.2"/>
<circle cx="506.7" cy="705.3" r="4.2"/>
<circle cx="520.2" cy="713.1" r="4.2"/>
<circle cx="535.2" cy="717.1" r="4.2"/>
<circle cx="550.8" cy="717.1" r="4.2"/>
<circle cx="565.8" cy="713.1" r="4.2"/>
<circle cx="579.3" cy="705.3" r="4.2"/>
<circle cx="590.3" cy="694.3" r="4.2"/>
<circle cx="598.1" cy="680.8" r="4.2"/>
<circle cx="602.1" cy="665.8" r="4.2"/>
</g>
<circle cx="543.0" cy="658.0" r="18.2" fill="none" stroke="#151515" stroke-width="2.2"/>
<circle cx="543.0" cy="612.0" r="3.5" fill="#2a2a2a"/><circle cx="543.0" cy="612.0" r="1.9" fill="#777"/><circle cx="543.0" cy="612.0" r="0.8" fill="#333"/>
<circle cx="543.0" cy="704.0" r="3.5" fill="#2a2a2a"/><circle cx="543.0" cy="704.0" r="1.9" fill="#777"/><circle cx="543.0" cy="704.0" r="0.8" fill="#333"/>
<polyline points="839.5,558.0 641.7,558.0 441.5,758.2" fill="none" stroke="#151515" stroke-width="2.2" />
<polygon points="602.0,599.0 622.2,571.0 630.0,578.8" fill="#151515" stroke="#151515" stroke-width="0.8" stroke-linejoin="round"/>
<polygon points="484.0,717.0 463.8,745.0 456.0,737.2" fill="#151515" stroke="#151515" stroke-width="0.8" stroke-linejoin="round"/>
<g transform="translate(663.9 521.3) rotate(0)" fill="none" stroke="#151515" stroke-width="3.7" stroke-linecap="round"><circle r="15.1"/><line x1="-11.2" y1="20.6" x2="11.2" y2="-20.6"/></g>
<mask id="m15" maskUnits="userSpaceOnUse" x="-10" y="-50.6" width="191.3" height="69.0"><rect x="-10" y="-50.6" width="191.3" height="69.0" fill="#fff"/><rect x="2.25" y="-5.88" width="8.49" height="6.51" fill="#000"/><rect x="17.05" y="-5.88" width="7.88" height="6.51" fill="#000"/><rect x="53.41" y="-5.88" width="8.49" height="6.51" fill="#000"/><rect x="68.21" y="-5.88" width="7.88" height="6.51" fill="#000"/></mask>
<text transform="translate(692.3 537.2) scale(0.9 1)" font-size="46.0" x="0.00 25.58 51.17 76.75 89.53 130.43" y="0" mask="url(#m15)" >121 mm</text>
</svg>
</body></html>
